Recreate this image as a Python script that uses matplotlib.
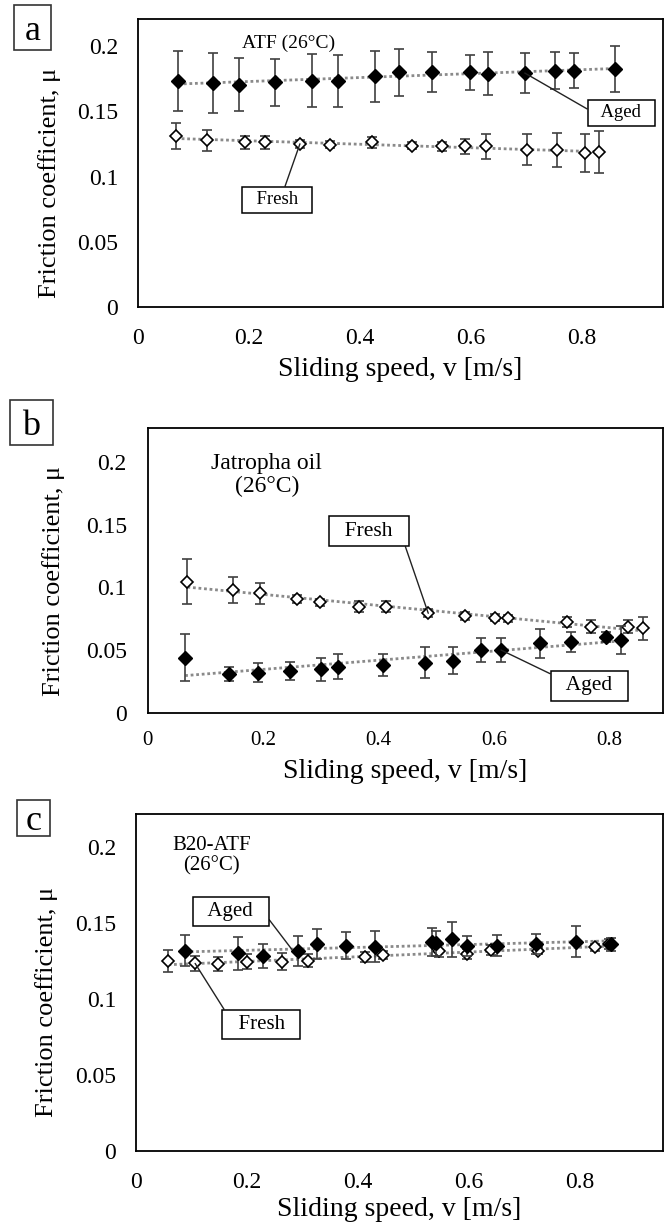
import matplotlib
matplotlib.use("Agg")
import matplotlib.pyplot as plt
from matplotlib.patches import Rectangle
import numpy as np

plt.rcParams['font.family'] = ['Liberation Serif', 'DejaVu Serif']

# ---------------- data ----------------
# Panel a: ATF (26°C)
a_aged_x = [0.073, 0.136, 0.182, 0.248, 0.313, 0.361, 0.428, 0.470, 0.529, 0.598, 0.630, 0.697, 0.751, 0.785, 0.860]
a_aged_y = [0.1736, 0.1718, 0.1705, 0.1723, 0.1736, 0.1736, 0.1769, 0.1800, 0.1803, 0.1800, 0.1790, 0.1795, 0.1813, 0.1813, 0.1826]
a_aged_e = [0.023, 0.023, 0.0205, 0.018, 0.0205, 0.020, 0.0195, 0.018, 0.015, 0.0135, 0.0164, 0.0154, 0.0144, 0.0136, 0.018]
a_fresh_x = [0.069, 0.125, 0.193, 0.229, 0.292, 0.346, 0.422, 0.493, 0.548, 0.590, 0.628, 0.701, 0.755, 0.805, 0.831]
a_fresh_y = [0.1313, 0.1277, 0.1264, 0.1264, 0.1251, 0.1244, 0.1262, 0.1236, 0.1231, 0.1231, 0.1231, 0.1205, 0.1205, 0.1180, 0.1187]
a_fresh_e = [0.010, 0.0083, 0.005, 0.005, 0.003, 0.0026, 0.0044, 0.0028, 0.0036, 0.006, 0.0096, 0.012, 0.013, 0.0144, 0.016]

# Panel b: Jatropha oil (26°C)
b_fresh_x = [0.069, 0.148, 0.194, 0.258, 0.298, 0.366, 0.412, 0.486, 0.549, 0.601, 0.624, 0.727, 0.767, 0.831, 0.857]
b_fresh_y = [0.1046, 0.0980, 0.0954, 0.0909, 0.0882, 0.0848, 0.0848, 0.0795, 0.0773, 0.0760, 0.0755, 0.0728, 0.0689, 0.0689, 0.0675]
b_fresh_e = [0.0179, 0.0103, 0.0085, 0.0033, 0.003, 0.0042, 0.0042, 0.0032, 0.0033, 0.0026, 0.0026, 0.004, 0.0053, 0.0053, 0.009]
b_aged_x = [0.065, 0.141, 0.191, 0.247, 0.300, 0.329, 0.408, 0.481, 0.528, 0.578, 0.612, 0.679, 0.734, 0.793, 0.820]
b_aged_y = [0.0442, 0.0313, 0.0323, 0.0336, 0.0350, 0.0371, 0.0384, 0.0403, 0.0419, 0.0503, 0.0503, 0.0556, 0.0570, 0.0604, 0.0583]
b_aged_e = [0.0189, 0.0053, 0.0077, 0.0069, 0.0091, 0.0097, 0.0091, 0.0123, 0.0106, 0.0099, 0.0099, 0.0114, 0.0079, 0.004, 0.0109]

# Panel c: B20-ATF (26°C)
c_aged_x = [0.089, 0.184, 0.229, 0.293, 0.326, 0.379, 0.431, 0.533, 0.541, 0.570, 0.597, 0.650, 0.720, 0.792, 0.856]
c_aged_y = [0.1316, 0.1298, 0.1281, 0.1316, 0.1357, 0.1349, 0.1342, 0.1375, 0.1364, 0.1390, 0.1346, 0.1349, 0.1357, 0.1375, 0.1357]
c_aged_e = [0.0102, 0.011, 0.0077, 0.0099, 0.0099, 0.0088, 0.0102, 0.0091, 0.0082, 0.0115, 0.0064, 0.0069, 0.0066, 0.0101, 0.0044]
c_fresh_x = [0.059, 0.107, 0.149, 0.200, 0.263, 0.310, 0.413, 0.446, 0.546, 0.597, 0.640, 0.724, 0.827, 0.853]
c_fresh_y = [0.1248, 0.1232, 0.1228, 0.1243, 0.1243, 0.1250, 0.1272, 0.1287, 0.1316, 0.1294, 0.1320, 0.1316, 0.1338, 0.1360]
c_fresh_e = [0.0071, 0.0049, 0.0049, 0.005, 0.0055, 0.0044, 0.0033, 0.0027, 0.0042, 0.0034, 0.0031, 0.0025, 0.0022, 0.0032]

x_ticks = [0, 0.2, 0.4, 0.6, 0.8]
x_tick_labels = ['0', '0.2', '0.4', '0.6', '0.8']
y_ticks = [0, 0.05, 0.1, 0.15, 0.2]
y_tick_labels = ['0', '0.05', '0.1', '0.15', '0.2']

panel_titles = ['ATF (26°C)', 'Jatropha oil\n(26°C)', 'B20-ATF\n(26°C)']
panel_letters = ['a', 'b', 'c']
xlabel = 'Sliding speed, v [m/s]'
ylabel = 'Friction coefficient, μ'

# ---------------- figure ----------------
W, H = 665, 1230
fig = plt.figure(figsize=(W / 100, H / 100), dpi=100)

def px_axes(l, t, r, b):
    return fig.add_axes([l / W, 1 - b / H, (r - l) / W, (b - t) / H])

ax_a = px_axes(137.8, 19, 662.5, 306.7)
ax_b = px_axes(147.6, 427.7, 662.5, 713.3)
ax_c = px_axes(135.7, 814, 662.5, 1150.7)

TREND = dict(color='#8a8a8a', lw=2.0, ls=(0, (1, 1)), zorder=2)
ERR = dict(ecolor='#404040', elinewidth=1.2, capsize=3.5, capthick=1.2, ls='none')


def series(ax, x, y, e, filled):
    x = np.asarray(x); y = np.asarray(y)
    k, b0 = np.polyfit(x, y, 1)
    xs = np.array([x.min(), x.max()])
    ax.plot(xs, k * xs + b0, **TREND)
    if filled:
        ax.errorbar(x, y, yerr=e, marker='D', ms=7, mfc='black', mec='black',
                    zorder=4, **ERR)
    else:
        ax.errorbar(x, y, yerr=e, marker='D', ms=6, mfc='white', mec='black',
                    mew=1.2, zorder=3, **ERR)


def style(ax, xmax, ymax, ytick_pad, xtick_pad, xlab_cy, ylab_cx, ylab_dy, xtick_fs):
    ax.set_xlim(0, xmax)
    ax.set_ylim(0, ymax)
    ax.set_xticks(x_ticks)
    ax.set_xticklabels(x_tick_labels, fontsize=xtick_fs)
    ax.set_yticks(y_ticks)
    ax.set_yticklabels(y_tick_labels, fontsize=17)
    ax.tick_params(axis='both', length=0)
    ax.tick_params(axis='y', pad=ytick_pad)
    ax.tick_params(axis='x', pad=xtick_pad)
    for s in ax.spines.values():
        s.set_linewidth(1.3)
        s.set_color('black')
    bb = ax.get_position()
    wpx, hpx = bb.width * W, bb.height * H
    ax.set_xlabel(xlabel, fontsize=20, va='center')
    ax.set_ylabel(ylabel, fontsize=19, va='center', ha='center')
    ax.xaxis.set_label_coords(0.5, -xlab_cy / hpx)
    ax.yaxis.set_label_coords(-ylab_cx / wpx, 0.5 - ylab_dy / hpx)


def boxed(ax, text, xy, xytext, relpos, fs):
    ax.annotate(text, xy=xy, xytext=xytext, textcoords='data', fontsize=fs,
                ha='center', va='center', zorder=6,
                bbox=dict(boxstyle='square,pad=0.25', fc='white', ec='black', lw=1.1),
                arrowprops=dict(arrowstyle='-', color='#222222', lw=1.0,
                                shrinkA=0, shrinkB=0, relpos=relpos))


# Panel a
series(ax_a, a_aged_x, a_aged_y, a_aged_e, True)
series(ax_a, a_fresh_x, a_fresh_y, a_fresh_e, False)
style(ax_a, 0.945, 0.221, 14, 15, 63, 88, 20, 17)
ax_a.text(0.271, 0.2026, panel_titles[0], fontsize=14, ha='center', va='center')
boxed(ax_a, '  Aged  ', (a_aged_x[11], a_aged_y[11]), (0.871, 0.149), (0, 0.55), 13.5)
boxed(ax_a, '  Fresh  ', (a_fresh_x[4], a_fresh_y[4]), (0.251, 0.082), (0.6, 1), 13.5)

# Panel b
series(ax_b, b_fresh_x, b_fresh_y, b_fresh_e, False)
series(ax_b, b_aged_x, b_aged_y, b_aged_e, True)
style(ax_b, 0.8916, 0.227, 15, 13, 58, 94, 10, 15)
ax_b.text(0.2066, 0.1894, panel_titles[1], fontsize=17, ha='center', va='center',
          linespacing=1.1)
boxed(ax_b, '  Fresh  ', (b_fresh_x[7], b_fresh_y[7]), (0.383, 0.1446), (1, 0), 15.5)
boxed(ax_b, '  Aged  ', (b_aged_x[10], b_aged_y[10]), (0.765, 0.0217), (0, 1), 15.5)

# Panel c
series(ax_c, c_fresh_x, c_fresh_y, c_fresh_e, False)
series(ax_c, c_aged_x, c_aged_y, c_aged_e, True)
style(ax_c, 0.9486, 0.2215, 14, 15, 59, 89, 20, 17)
ax_c.text(0.137, 0.1939, panel_titles[2], fontsize=15, ha='center', va='center',
          linespacing=1.1)
boxed(ax_c, '  Aged  ', (c_aged_x[3] - 0.012, 0.1325), (0.1714, 0.1575), (1, 0.45), 15)
boxed(ax_c, '  Fresh  ', (c_fresh_x[1], c_fresh_y[1]), (0.2263, 0.0831), (0, 1), 15)

# Panel letters (boxes in figure pixel coordinates)
letter_boxes = [(14, 5, 51, 50), (10, 400, 53, 445), (17, 800, 50, 836)]
for letter, (l, t, r, b) in zip(panel_letters, letter_boxes):
    fig.add_artist(Rectangle((l / W, 1 - b / H), (r - l) / W, (b - t) / H,
                             transform=fig.transFigure, fill=False, ec='#333333', lw=1.2))
    fig.text((l + r) / 2 / W, 1 - (t + b) / 2 / H, letter, fontsize=26,
             ha='center', va='center_baseline')

fig.savefig('out.png', dpi=100)
